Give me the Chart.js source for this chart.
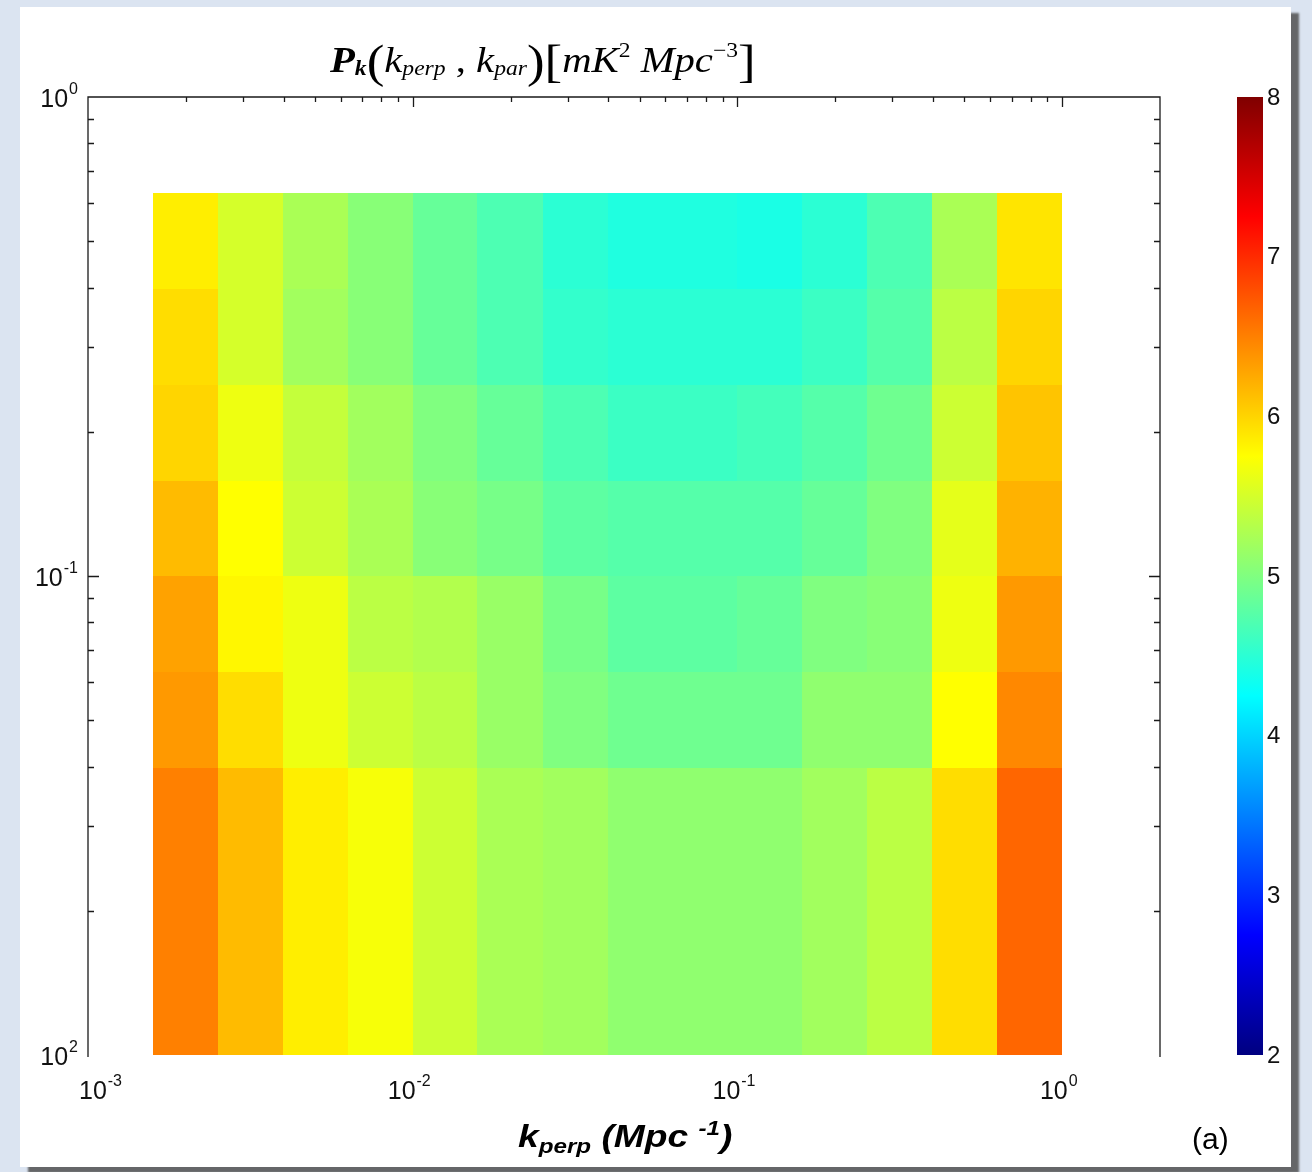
<!DOCTYPE html>
<html>
<head>
<meta charset="utf-8">
<title>P_k(k_perp, k_par)</title>
<script src="https://cdn.jsdelivr.net/npm/chart.js@4.4.0/dist/chart.umd.min.js"></script>
<style>
  html, body { margin: 0; padding: 0; }
  body { width: 1312px; height: 1172px; position: relative; overflow: hidden; background: #dbe4f1; }
  #panel { position: absolute; left: 20px; top: 7px; width: 1271px; height: 1160px; background: #fff;
           box-shadow: 8px 6px 2px rgba(80, 80, 80, 0.85); }
  #pk { position: absolute; left: 0; top: 0; }
  .txt { position: absolute; white-space: nowrap; line-height: 1; color: #000; transform-origin: 0 0; }
  #title { left: 330px; top: 38px; font-family: 'Liberation Serif', 'Times New Roman', serif; font-size: 36px;
           transform: scaleX(1.13); }
  #title .sb { font-size: 0.58em; vertical-align: -0.14em; }
  #title .sp { font-size: 0.58em; vertical-align: 0.75em; }
  #title .br { font-size: 1.3em; vertical-align: -0.1em; }
  #xlabel { left: 518px; top: 1118px; font-family: 'Liberation Sans', Arial, sans-serif; font-size: 31px;
            font-weight: bold; font-style: italic; transform: scaleX(1.2); }
  #xlabel .sb { font-size: 0.65em; vertical-align: -0.3em; }
  #xlabel .sp { font-size: 0.65em; vertical-align: 0.6em; }
  #tag { left: 1192px; top: 1124px; font-family: 'Liberation Sans', Arial, sans-serif; font-size: 30px; }
</style>
</head>
<body>
<div id="panel"></div>
<canvas id="pk" width="1312" height="1172"></canvas>
<div class="txt" id="title"><b><i>P</i></b><span class="sb"><b><i>k</i></b></span><span class="br">(</span><i>k</i><span class="sb"><i>perp</i></span> , <i>k</i><span class="sb"><i>par</i></span><span class="br">)[</span><i>mK</i><span class="sp">2</span> <i>Mpc</i><span class="sp">&#8722;3</span><span class="br">]</span></div>
<div class="txt" id="xlabel">k<span class="sb">perp</span> (Mpc <span class="sp">-1</span>)</div>
<div class="txt" id="tag">(a)</div>
<script>
// colour range of the bar (jet map)
var cMin = 2, cMax = 8;

// bin edges (Mpc^-1)
var kPerpEdges = [0.00158, 0.00251, 0.00398, 0.00631, 0.0100, 0.0158, 0.0251, 0.0398,
                  0.0631, 0.100, 0.158, 0.251, 0.398, 0.631, 1.00];
var kParEdges = [0.0100, 0.0398, 0.0631, 0.100, 0.158, 0.251, 0.398, 0.631];

// P_k per k_par bin, bottom row first, one value per k_perp bin
var pkPar1 = [6.50, 6.15, 5.85, 5.70, 5.45, 5.25, 5.20, 5.10, 5.10, 5.10, 5.20, 5.35, 5.95, 6.65];
var pkPar2 = [6.35, 5.95, 5.65, 5.45, 5.35, 5.15, 5.00, 4.90, 4.90, 4.90, 5.10, 5.10, 5.75, 6.45];
var pkPar3 = [6.30, 5.80, 5.65, 5.35, 5.30, 5.15, 4.95, 4.80, 4.80, 4.85, 5.00, 5.05, 5.65, 6.35];
var pkPar4 = [6.15, 5.75, 5.45, 5.25, 5.05, 4.95, 4.80, 4.75, 4.75, 4.75, 4.85, 5.00, 5.60, 6.20];
var pkPar5 = [6.00, 5.65, 5.40, 5.20, 5.00, 4.85, 4.70, 4.60, 4.60, 4.65, 4.75, 4.90, 5.45, 6.10];
var pkPar6 = [5.95, 5.50, 5.20, 5.05, 4.85, 4.70, 4.55, 4.50, 4.50, 4.50, 4.60, 4.75, 5.35, 6.00];
var pkPar7 = [5.85, 5.50, 5.25, 5.05, 4.85, 4.70, 4.50, 4.43, 4.43, 4.40, 4.50, 4.70, 5.25, 5.90];
var pkRows = [pkPar1, pkPar2, pkPar3, pkPar4, pkPar5, pkPar6, pkPar7];

// labelled ticks
var xTickValues = [0.001, 0.01, 0.1, 1];
var xTickExps = ['-3', '-2', '-1', '0'];
var yTickValues = [0.01, 0.1, 1];
var yTickExps = ['2', '-1', '0'];
var cbTicks = [2, 3, 4, 5, 6, 7, 8];

var SANS = "'Liberation Sans', Arial, sans-serif";

function jet(v) {
  var t = (v - cMin) / (cMax - cMin);
  t = Math.max(0, Math.min(1, t));
  function ch(c) { return Math.round(255 * Math.max(0, Math.min(1, 1.5 - Math.abs(4 * t - c)))); }
  return 'rgb(' + ch(3) + ',' + ch(2) + ',' + ch(1) + ')';
}

// integer mantissa 1..9 only (v4 log scale also emits 1.5 x 10^n)
function isPlainLogTick(v) {
  var m = v / Math.pow(10, Math.floor(Math.log10(v) + 1e-9));
  return Math.abs(m - Math.round(m)) < 1e-6;
}

// pcolor-style cells
var heatmapPlugin = {
  id: 'heatmap',
  beforeDatasetsDraw: function (chart) {
    var ctx = chart.ctx, x = chart.scales.x, y = chart.scales.y;
    ctx.save();
    pkRows.forEach(function (row, r) {
      var y0 = Math.round(y.getPixelForValue(kParEdges[r + 1]));
      var y1 = Math.round(y.getPixelForValue(kParEdges[r]));
      row.forEach(function (v, c) {
        var x0 = Math.round(x.getPixelForValue(kPerpEdges[c]));
        var x1 = Math.round(x.getPixelForValue(kPerpEdges[c + 1]));
        ctx.fillStyle = jet(v);
        ctx.fillRect(x0, y0, x1 - x0, y1 - y0);
      });
    });
    ctx.restore();
  }
};

function drawPow(ctx, base, exp, px, py, align) {
  ctx.font = '25px ' + SANS;
  var wb = ctx.measureText(base).width;
  ctx.font = '16px ' + SANS;
  var we = ctx.measureText(exp).width;
  var left = align === 'center' ? px - (wb + we) / 2 : px - wb - we;
  ctx.textAlign = 'left';
  ctx.textBaseline = 'alphabetic';
  ctx.font = '25px ' + SANS;
  ctx.fillText(base, left, py);
  ctx.font = '16px ' + SANS;
  ctx.fillText(exp, left + wb + 1, py - 13);
}

// MATLAB-like box: inward ticks on left, top and right, no bottom line
var axesPlugin = {
  id: 'boxAxes',
  afterDraw: function (chart) {
    var ctx = chart.ctx, a = chart.chartArea, x = chart.scales.x, y = chart.scales.y;
    ctx.save();
    ctx.strokeStyle = '#1a1a1a';
    ctx.lineWidth = 1.3;
    ctx.beginPath();
    ctx.moveTo(a.left, a.bottom + 2); ctx.lineTo(a.left, a.top);
    ctx.lineTo(a.right, a.top); ctx.lineTo(a.right, a.bottom + 2);
    ctx.stroke();

    ctx.beginPath();
    x.ticks.forEach(function (t) {
      if (!isPlainLogTick(t.value)) { return; }
      var px = Math.round(x.getPixelForValue(t.value)) + 0.5;
      if (px <= a.left + 1 || px >= a.right - 1) { return; }
      var len = t.major ? 10 : 5;
      ctx.moveTo(px, a.top); ctx.lineTo(px, a.top + len);
    });
    y.ticks.forEach(function (t) {
      if (!isPlainLogTick(t.value)) { return; }
      var py = Math.round(y.getPixelForValue(t.value)) + 0.5;
      if (py <= a.top + 1 || py >= a.bottom - 1) { return; }
      var len = t.major ? 11 : 6;
      ctx.moveTo(a.left, py); ctx.lineTo(a.left + len, py);
      ctx.moveTo(a.right, py); ctx.lineTo(a.right - len, py);
    });
    ctx.stroke();

    ctx.fillStyle = '#111';
    xTickValues.forEach(function (v, i) {
      drawPow(ctx, '10', xTickExps[i], x.getPixelForValue(v) + (i === 0 ? 12 : -4), a.bottom + 44, 'center');
    });
    yTickValues.forEach(function (v, i) {
      drawPow(ctx, '10', yTickExps[i], a.left - 11, y.getPixelForValue(v) + 10, 'right');
    });
    ctx.restore();
  }
};

// colour bar on the 'c' scale, which shares the plot's vertical extent
var colorbarPlugin = {
  id: 'colorbar',
  afterDraw: function (chart) {
    var ctx = chart.ctx, c = chart.scales.c;
    var left = 1237, width = 26;
    var top = c.getPixelForValue(cMax), bottom = c.getPixelForValue(cMin);
    var grad = ctx.createLinearGradient(0, bottom, 0, top);
    for (var s = 0; s <= 16; s++) {
      grad.addColorStop(s / 16, jet(cMin + (cMax - cMin) * s / 16));
    }
    ctx.save();
    ctx.fillStyle = grad;
    ctx.fillRect(left, top, width, bottom - top);
    ctx.fillStyle = '#111';
    ctx.font = '24px ' + SANS;
    ctx.textAlign = 'left';
    ctx.textBaseline = 'middle';
    cbTicks.forEach(function (v) {
      ctx.fillText(String(v), left + width + 4, c.getPixelForValue(v) + 1);
    });
    ctx.restore();
  }
};

new Chart(document.getElementById('pk'), {
  type: 'scatter',
  data: { datasets: [] },
  options: {
    responsive: false,
    animation: false,
    layout: { padding: { left: 88, top: 97, right: 152, bottom: 117 } },
    plugins: { legend: { display: false }, tooltip: { enabled: false } },
    scales: {
      x: { type: 'logarithmic', min: 0.001, max: 2, display: false },
      y: { type: 'logarithmic', min: 0.01, max: 1, display: false },
      c: { type: 'linear', axis: 'y', position: 'right', min: cMin, max: cMax, display: false }
    }
  },
  plugins: [heatmapPlugin, axesPlugin, colorbarPlugin]
});
</script>
</body>
</html>
